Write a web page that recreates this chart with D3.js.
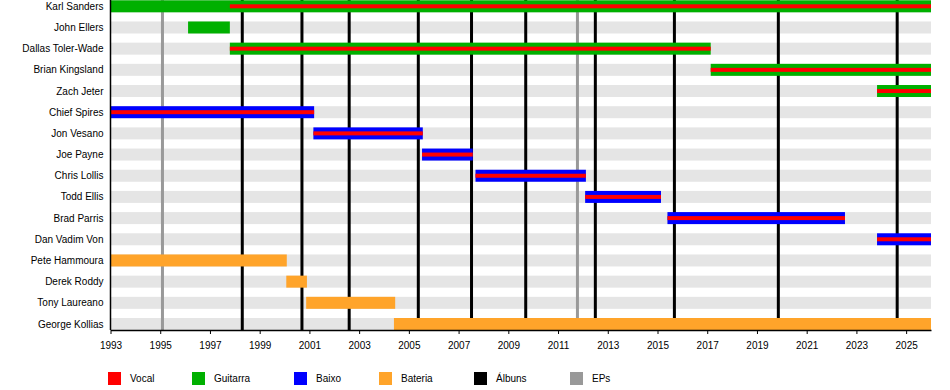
<!DOCTYPE html>
<html>
<head>
<meta charset="utf-8">
<script src="https://cdn.jsdelivr.net/npm/d3@7"></script>
<style>
  body { margin: 0; background: #fff; }
  svg text { font-family: "Liberation Sans", Arial, sans-serif; font-size: 10px; fill: #000; }
</style>
</head>
<body>
<div id="chart"></div>
<script>
// members, top to bottom
const members = ["Karl Sanders", "John Ellers", "Dallas Toler-Wade", "Brian Kingsland", "Zach Jeter",
  "Chief Spires", "Jon Vesano", "Joe Payne", "Chris Lollis", "Todd Ellis", "Brad Parris", "Dan Vadim Von",
  "Pete Hammoura", "Derek Roddy", "Tony Laureano", "George Kollias"];

// [member, from, to]
const guitar = [["Karl Sanders", 1993, 2026], ["John Ellers", 1996.12, 1997.8], ["Dallas Toler-Wade", 1997.8, 2017.14],
  ["Brian Kingsland", 2017.14, 2026], ["Zach Jeter", 2023.83, 2026]];
const bass = [["Chief Spires", 1993, 2001.19], ["Jon Vesano", 2001.16, 2005.56], ["Joe Payne", 2005.53, 2007.57],
  ["Chris Lollis", 2007.68, 2012.12], ["Todd Ellis", 2012.09, 2015.14], ["Brad Parris", 2015.4, 2022.54],
  ["Dan Vadim Von", 2023.83, 2026]];
const drums = [["Pete Hammoura", 1993, 2000.09], ["Derek Roddy", 2000.07, 2000.9], ["Tony Laureano", 2000.87, 2004.45],
  ["George Kollias", 2004.4, 2026]];
const vocals = [["Karl Sanders", 1997.8, 2026], ["Dallas Toler-Wade", 1997.8, 2017.14], ["Brian Kingsland", 2017.14, 2026],
  ["Zach Jeter", 2023.83, 2026], ["Chief Spires", 1993, 2001.19], ["Jon Vesano", 2001.16, 2005.56],
  ["Joe Payne", 2005.53, 2007.57], ["Chris Lollis", 2007.68, 2012.12], ["Todd Ellis", 2012.09, 2015.14],
  ["Brad Parris", 2015.4, 2022.54], ["Dan Vadim Von", 2023.83, 2026]];

const albums = [1998.3, 2000.7, 2002.6, 2005.38, 2007.52, 2009.7, 2012.5, 2015.68, 2019.86, 2024.64];
const eps = [1995.09, 2011.78];

const tickYears = [1993, 1995, 1997, 1999, 2001, 2003, 2005, 2007, 2009, 2011, 2013, 2015, 2017, 2019, 2021, 2023, 2025];

const legendLabels = ["Vocal", "Guitarra", "Baixo", "Bateria", "Álbuns", "EPs"];
const legendColors = ["#ff0000", "#00b000", "#0000ff", "#ffa42a", "#000000", "#999999"];

const width = 950, height = 390;
const plotLeft = 110.5, plotRight = 931, axisY = 330;
const barH = 12;

const svg = d3.select("#chart").append("svg")
  .attr("width", width)
  .attr("height", height);

const x = d3.scaleLinear().domain([1993, 2026]).range([plotLeft, plotRight]);
const y = d3.scalePoint().domain(members).range([6.3, 324]);

// grey stripes behind every row
svg.append("g").selectAll("rect")
  .data(members)
  .enter().append("rect")
  .attr("x", plotLeft)
  .attr("y", d => y(d) - barH / 2)
  .attr("width", plotRight - plotLeft)
  .attr("height", barH)
  .attr("fill", "#e5e5e5");

// release lines
svg.append("g").selectAll("line")
  .data(eps)
  .enter().append("line")
  .attr("x1", d => x(d)).attr("x2", d => x(d))
  .attr("y1", 0).attr("y2", axisY)
  .attr("stroke", "#999999")
  .attr("stroke-width", 3);

svg.append("g").selectAll("line")
  .data(albums)
  .enter().append("line")
  .attr("x1", d => x(d)).attr("x2", d => x(d))
  .attr("y1", 0).attr("y2", axisY)
  .attr("stroke", "#000")
  .attr("stroke-width", 3);

// role bars
function drawBars(data, color, h) {
  svg.append("g").selectAll("rect")
    .data(data)
    .enter().append("rect")
    .attr("x", d => x(d[1]))
    .attr("y", d => y(d[0]) - h / 2)
    .attr("width", d => x(d[2]) - x(d[1]))
    .attr("height", h)
    .attr("fill", color);
}
drawBars(guitar, legendColors[1], barH);
drawBars(bass, legendColors[2], barH);
drawBars(drums, legendColors[3], barH);
drawBars(vocals, legendColors[0], 4);

// member names
svg.append("g").selectAll("text")
  .data(members)
  .enter().append("text")
  .attr("x", plotLeft - 7)
  .attr("y", d => y(d))
  .attr("dy", "0.35em")
  .attr("text-anchor", "end")
  .text(d => d);

// axes
const xAxis = svg.append("g")
  .attr("transform", `translate(0,${axisY})`)
  .call(d3.axisBottom(x).tickValues(tickYears).tickFormat(d3.format("d")).tickSize(4).tickSizeOuter(0).tickPadding(8));
xAxis.selectAll("text").style("font-size", "10px");
xAxis.select(".domain").attr("stroke-width", 1.5);

svg.append("line")
  .attr("x1", plotLeft).attr("x2", plotLeft)
  .attr("y1", 0).attr("y2", axisY)
  .attr("stroke", "#000")
  .attr("stroke-width", 1.5);

// legend
const legendX = [108, 192, 294, 379, 474, 570];
const legend = svg.append("g").selectAll("g")
  .data(legendLabels)
  .enter().append("g")
  .attr("transform", (d, i) => `translate(${legendX[i]},372)`);
legend.append("rect")
  .attr("width", 13).attr("height", 13)
  .attr("fill", (d, i) => legendColors[i]);
legend.append("text")
  .attr("x", 22)
  .attr("y", 6.5)
  .attr("dy", "0.35em")
  .text(d => d);
</script>
</body>
</html>
